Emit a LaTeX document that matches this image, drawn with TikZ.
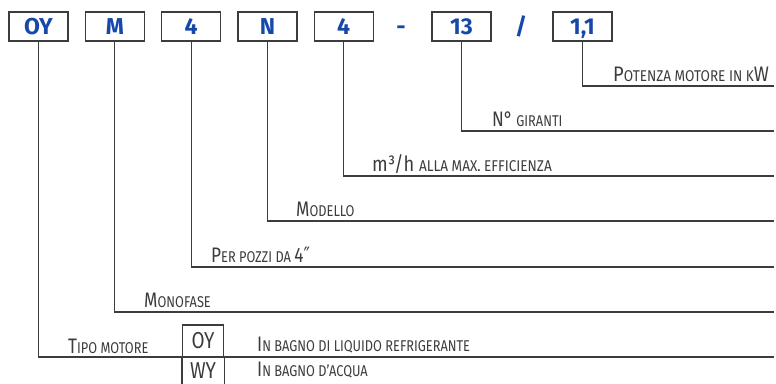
\documentclass[tikz,border=0pt]{standalone}
\usepackage{fontspec}
\setmainfont{Fira Sans}
\newfontfamily\lblfont[FakeStretch=0.82]{Fira Sans}
\newfontfamily\widefont[FakeStretch=0.87]{Fira Sans}
\newfontfamily\symfont[FakeStretch=0.82]{DejaVu Sans}
\usepackage{tikz}
\usetikzlibrary{positioning}

\definecolor{codeblue}{RGB}{22,72,170}
\definecolor{linegray}{RGB}{60,60,60}
\newcommand{\smc}[1]{{\fontsize{15.6pt}{15.6pt}\selectfont #1}}

\begin{document}
\begin{tikzpicture}[x=1pt,y=-1pt,
  codebox/.style={draw=linegray, line width=1.3pt, minimum width=59pt, minimum height=29pt,
    inner sep=0pt, text height=16pt, text depth=0pt, text=codeblue,
    font=\fontsize{23pt}{23pt}\selectfont\bfseries},
  sepmark/.style={inner sep=0pt, text height=16pt, text depth=0pt, text=codeblue,
    font=\fontsize{23pt}{23pt}\selectfont\bfseries},
  typebox/.style={draw=linegray, line width=1.2pt, minimum width=41pt, minimum height=32pt,
    inner sep=0pt, text=linegray, font=\lblfont\fontsize{23pt}{23pt}\selectfont},
  lbl/.style={anchor=base west, inner sep=0pt, text=linegray,
    font=\lblfont\fontsize{21pt}{21pt}\selectfont},
  widelbl/.style={lbl, font=\widefont\fontsize{21pt}{21pt}\selectfont},
  lead/.style={draw=linegray, line width=1.2pt}]
\useasboundingbox (0,0) rectangle (776,383);

% code boxes
\node[codebox] (oy) at (38.5,26.5) {OY};
\node[codebox, right=16pt of oy] (mono) {M};
\node[codebox, right=16pt of mono] (pozzi) {4};
\node[codebox, right=16pt of pozzi] (mod) {N};
\node[codebox, right=16pt of mod] (port) {4};
\node[sepmark] (dash) at (401,26.5) {-};
\node[codebox] (gir) at (461.5,26.5) {13};
\node[sepmark] (slash) at (521,26.5) {/};
\node[codebox] (kw) at (582.5,26.5) {1,1};

% right ends of the leads
\coordinate (ekw) at (774,86);
\coordinate (egir) at (774,131);
\coordinate (eport) at (774,176);
\coordinate (emod) at (774,221);
\coordinate (epozzi) at (774,267);
\coordinate (emono) at (774,312);
\coordinate (eoy) at (774,357);

\draw[lead] (kw.south) |- (ekw);
\draw[lead] (gir.south) |- (egir);
\draw[lead] (port.south) |- (eport);
\draw[lead] (mod.south) |- (emod);
\draw[lead] (pozzi.south) |- (epozzi);
\draw[lead] (mono.south) |- (emono);
\draw[lead] (oy.south) |- (eoy);

% labels
\node[widelbl] (tkw) at (613,81) {P\smc{OTENZA MOTORE IN K}W};
\node[lbl] (tgir) at (492,126) {N°\smc{ GIRANTI}};
\node[widelbl] (tport) at (372,171.5) {m³/h \smc{ALLA MAX. EFFICIENZA}};
\node[lbl] (tmod) at (296,216.5) {M\smc{ODELLO}};
\node[lbl] (tpozzi) at (211,262) {P\smc{ER POZZI DA }4{\symfont ″}};
\node[lbl] (tmono) at (144,307.5) {M\smc{ONOFASE}};
\node[lbl] (toy) at (68,353) {T\smc{IPO MOTORE}};

% motor type
\node[typebox] (boy) at (203,341) {OY};
\draw[lead] (boy.south west) -- ++(0,30);
\draw[lead] (boy.south east) -- ++(0,30);
\node[lbl, anchor=base] (bwy) at (203,378) {\fontsize{23pt}{23pt}\selectfont WY};
\node[lbl] (tref) at (257,351) {I\smc{N BAGNO DI LIQUIDO REFRIGERANTE}};
\node[lbl] (tacq) at (257,376) {I\smc{N BAGNO D’ACQUA}};
\end{tikzpicture}
\end{document}
